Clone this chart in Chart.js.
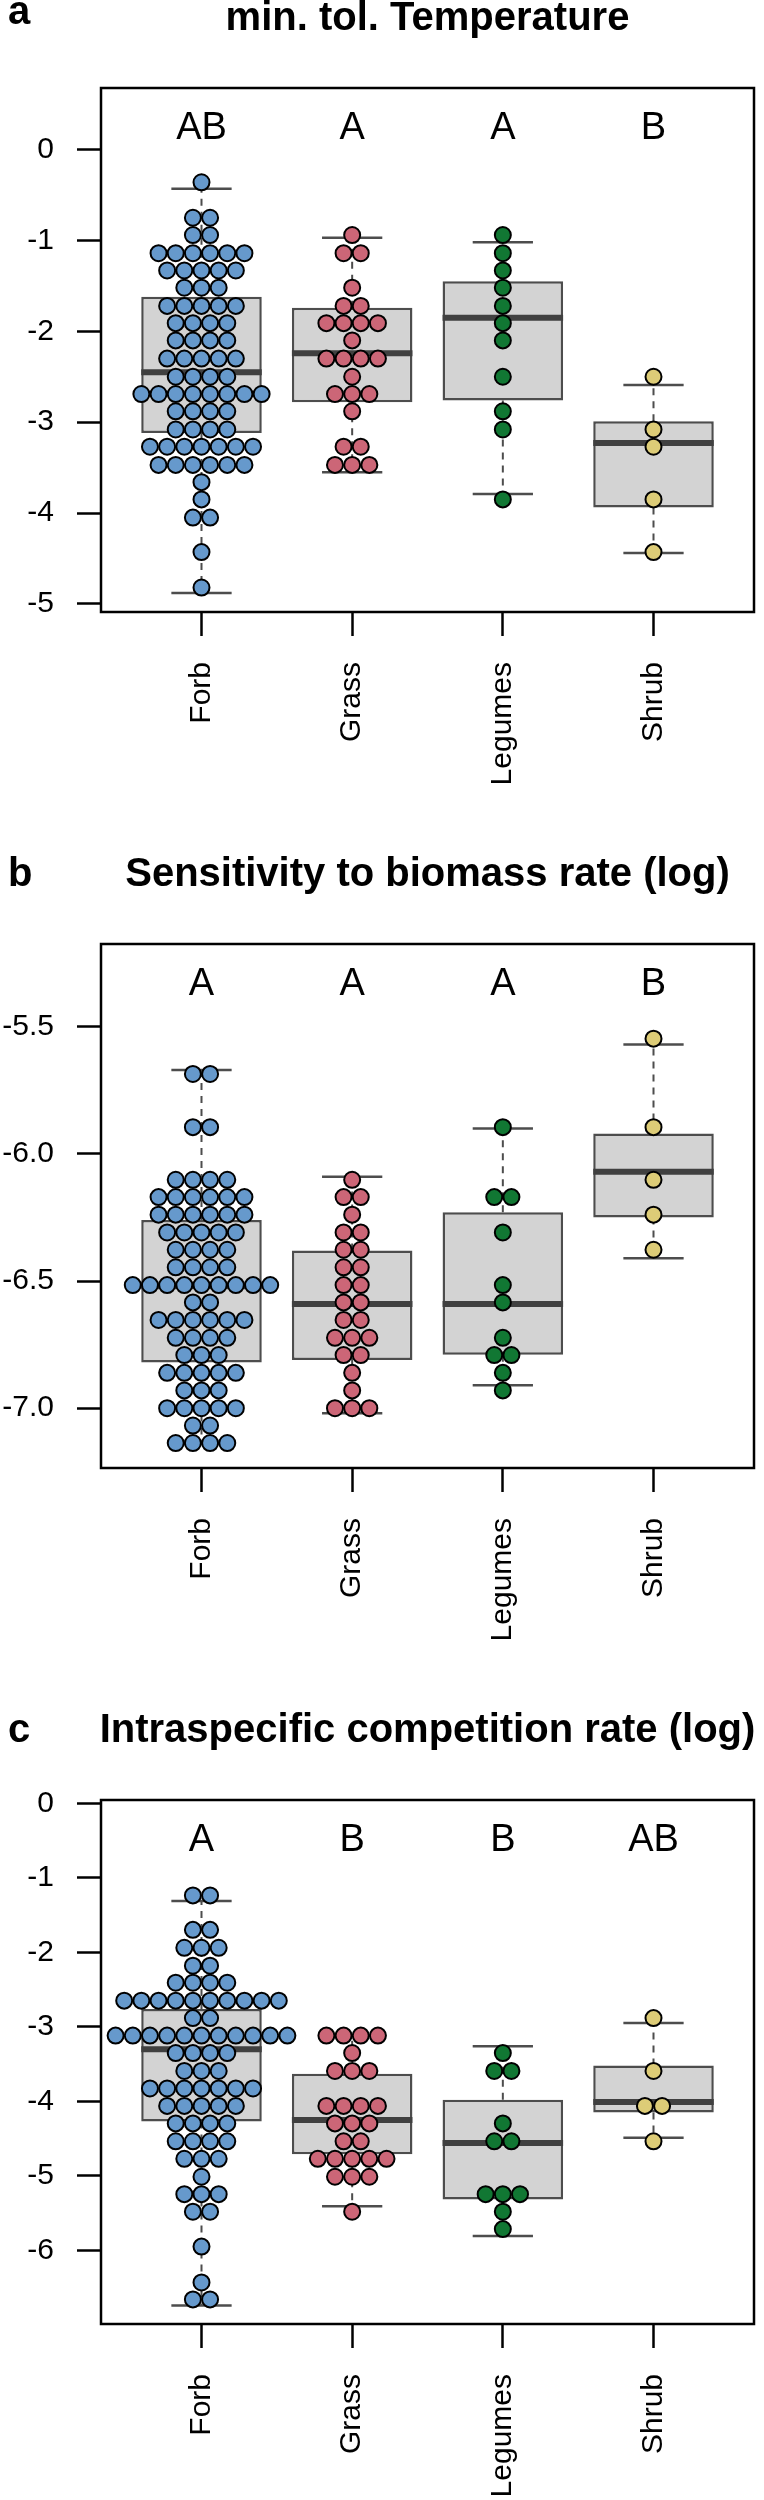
<!DOCTYPE html>
<html lang="en">
<head>
  <meta charset="UTF-8">
  <title>Boxplots with beeswarm by growth form</title>
  <script src="https://cdn.jsdelivr.net/npm/chart.js"></script>
  <style>
    body { margin: 0; background: #fff; }
    canvas { display: block; }
  </style>
</head>
<body>
  <canvas id="chartA" width="764" height="856"></canvas>
  <canvas id="chartB" width="764" height="856"></canvas>
  <canvas id="chartC" width="764" height="856"></canvas>
  <script>
    const groups = ['Forb', 'Grass', 'Legumes', 'Shrub'];
    const colors = ['#6699CC', '#CC6677', '#117733', '#DDCC77'];

    // a) min. tol. Temperature : swarm rows (value, number of species in the row)
    const tempForbY = [-0.36, -0.75, -0.94, -1.14, -1.33, -1.52, -1.72, -1.91, -2.10, -2.30, -2.50, -2.69, -2.88, -3.08, -3.27, -3.47, -3.66, -3.85, -4.05, -4.43, -4.82];
    const tempForbN = [1, 2, 2, 6, 5, 3, 5, 4, 4, 5, 4, 8, 4, 4, 7, 6, 1, 1, 2, 1, 1];
    const tempGrassY = [-0.94, -1.14, -1.52, -1.72, -1.91, -2.10, -2.30, -2.50, -2.69, -2.88, -3.27, -3.47];
    const tempGrassN = [1, 2, 1, 2, 4, 1, 4, 1, 3, 1, 2, 3];
    const tempLegY = [-0.94, -1.14, -1.33, -1.52, -1.72, -1.91, -2.10, -2.50, -2.88, -3.08, -3.85];
    const tempLegN = [1, 1, 1, 1, 1, 1, 1, 1, 1, 1, 1];
    const tempShrubY = [-2.50, -3.08, -3.27, -3.85, -4.43];
    const tempShrubN = [1, 1, 1, 1, 1];
    const tempQ1 = [-3.12, -2.78, -2.76, -3.94];
    const tempMed = [-2.45, -2.24, -1.85, -3.23];
    const tempQ3 = [-1.62, -1.74, -1.45, -2.99];
    const tempLo = [-4.88, -3.55, -3.79, -4.44];
    const tempHi = [-0.43, -0.97, -1.02, -2.59];
    const tempLetters = ['AB', 'A', 'A', 'B'];
    const tempTicks = [0, -1, -2, -3, -4, -5];

    // b) Sensitivity to biomass rate (log)
    const sensForbY = [-5.686, -5.895, -6.102, -6.170, -6.239, -6.309, -6.377, -6.446, -6.516, -6.584, -6.653, -6.723, -6.791, -6.861, -6.930, -7.000, -7.068, -7.137];
    const sensForbN = [2, 2, 4, 6, 6, 5, 4, 4, 9, 2, 6, 4, 3, 5, 3, 5, 2, 4];
    const sensGrassY = [-6.102, -6.170, -6.239, -6.309, -6.377, -6.446, -6.516, -6.584, -6.653, -6.723, -6.791, -6.861, -6.930, -7.000];
    const sensGrassN = [1, 2, 1, 2, 2, 2, 2, 2, 2, 3, 2, 1, 1, 3];
    const sensLegY = [-5.895, -6.170, -6.309, -6.516, -6.584, -6.723, -6.791, -6.861, -6.930];
    const sensLegN = [1, 2, 1, 1, 1, 1, 2, 1, 1];
    const sensShrubY = [-5.547, -5.895, -6.102, -6.239, -6.377];
    const sensShrubN = [1, 1, 1, 1, 1];
    const sensQ1 = [-6.82, -6.81, -6.79, -6.25];
    const sensMed = [-6.52, -6.59, -6.59, -6.07];
    const sensQ3 = [-6.26, -6.38, -6.23, -5.92];
    const sensLo = [-7.14, -7.02, -6.91, -6.41];
    const sensHi = [-5.67, -6.09, -5.90, -5.57];
    const sensLetters = ['A', 'A', 'A', 'B'];
    const sensTicks = [-5.5, -6.0, -6.5, -7.0];

    // c) Intraspecific competition rate (log)
    const compForbY = [-1.236, -1.698, -1.939, -2.180, -2.408, -2.649, -2.883, -3.118, -3.352, -3.593, -3.828, -4.062, -4.297, -4.537, -4.772, -5.013, -5.247, -5.482, -5.951, -6.432, -6.660];
    const compForbN = [2, 2, 3, 2, 4, 10, 2, 11, 4, 3, 7, 5, 4, 4, 3, 1, 3, 2, 1, 1, 2];
    const compGrassY = [-3.118, -3.352, -3.593, -4.062, -4.297, -4.537, -4.772, -5.013, -5.482];
    const compGrassN = [4, 1, 3, 4, 3, 2, 5, 3, 1];
    const compLegY = [-3.352, -3.593, -4.297, -4.537, -5.247, -5.482, -5.716];
    const compLegN = [1, 2, 1, 2, 3, 1, 1];
    const compShrubY = [-2.883, -3.593, -4.062, -4.537];
    const compShrubN = [1, 1, 2, 1];
    const compQ1 = [-4.27, -4.71, -5.32, -4.15];
    const compMed = [-3.30, -4.25, -4.56, -4.01];
    const compQ3 = [-2.76, -3.63, -3.98, -3.52];
    const compLo = [-6.74, -5.41, -5.81, -4.49];
    const compHi = [-1.31, -3.12, -3.26, -2.95];
    const compLetters = ['A', 'B', 'B', 'AB'];
    const compTicks = [0, -1, -2, -3, -4, -5, -6];

    const SWARM_STEP = 0.114;   // horizontal spacing between dots, x units
    const FONT = '"Liberation Sans", Arial, Helvetica, sans-serif';
    Chart.defaults.font.family = FONT;
    Chart.defaults.color = '#000';

    // beeswarm "center" layout: dots of a row spread symmetrically round the group
    function swarm(rowsY, rowsN, pos) {
      const pts = [];
      rowsY.forEach((y, r) => {
        const n = rowsN[r];
        for (let k = 0; k < n; k++) pts.push({x: pos + (k - (n - 1) / 2) * SWARM_STEP, y: y});
      });
      return pts;
    }

    function segments(pairs) {
      // pairs: [[x0,y0,x1,y1], ...] -> line data broken by gaps
      const out = [];
      pairs.forEach(p => {
        out.push({x: p[0], y: p[1]}, {x: p[2], y: p[3]}, {x: p[2], y: null});
      });
      return out;
    }

    // titles, panel letter, group letters and the frame
    const decor = {
      id: 'decor',
      afterDatasetsDraw(chart, args, opts) {
        const {ctx, chartArea: a, scales: {x}} = chart;
        ctx.save();
        ctx.strokeStyle = '#000';
        ctx.lineWidth = 2.5;
        ctx.strokeRect(a.left, a.top, a.right - a.left, a.bottom - a.top);
        ctx.fillStyle = '#000';
        ctx.font = 'bold 40px ' + FONT;
        ctx.textBaseline = 'alphabetic';
        ctx.textAlign = 'center';
        ctx.fillText(opts.title, (a.left + a.right) / 2, a.top - 58);
        ctx.textAlign = 'left';
        ctx.fillText(opts.letter, 8, a.top - 58 - (opts.letterLift || 0));
        ctx.font = '38px ' + FONT;
        ctx.textAlign = 'center';
        ctx.textBaseline = 'middle';
        opts.groupLetters.forEach((t, i) => ctx.fillText(t, x.getPixelForValue(i + 1), a.top + 41));
        ctx.restore();
      }
    };

    function makePanel(id, p) {
      const pos = groups.map((g, i) => i + 1);
      const datasets = [];
      // swarm points on top
      p.rows.forEach((r, i) => {
        datasets.push({
          type: 'line', showLine: false, order: 0,
          data: swarm(r[0], r[1], pos[i]),
          pointRadius: 8, pointBorderWidth: 2,
          pointBackgroundColor: colors[i], pointBorderColor: '#000'
        });
      });
      // staples
      datasets.push({
        type: 'line', order: 1, pointRadius: 0, borderColor: '#4d4d4d', borderWidth: 2.5,
        data: segments(pos.flatMap((x, i) => [[x - 0.2, p.hi[i], x + 0.2, p.hi[i]], [x - 0.2, p.lo[i], x + 0.2, p.lo[i]]]))
      });
      // medians
      datasets.push({
        type: 'line', order: 2, pointRadius: 0, borderColor: '#404040', borderWidth: 6, borderCapStyle: 'butt',
        data: segments(pos.map((x, i) => [x - 0.4, p.med[i], x + 0.4, p.med[i]]))
      });
      // dashed whiskers
      datasets.push({
        type: 'line', order: 3, pointRadius: 0, borderColor: '#4d4d4d', borderWidth: 2, borderDash: [7, 6],
        data: segments(pos.flatMap((x, i) => [[x, p.q3[i], x, p.hi[i]], [x, p.q1[i], x, p.lo[i]]]))
      });
      // boxes
      datasets.push({
        type: 'bar', order: 4,
        data: pos.map((x, i) => ({x: x, y: [p.q1[i], p.q3[i]]})),
        backgroundColor: '#d3d3d3', borderColor: '#4d4d4d', borderWidth: 2.5, borderSkipped: false,
        barPercentage: 0.8, categoryPercentage: 1
      });

      const tickGrid = { drawOnChartArea: false, offset: false, tickLength: 24, tickWidth: 2.5, tickColor: '#000' };
      return new Chart(document.getElementById(id), {
        type: 'bar',
        data: { datasets: datasets },
        options: {
          responsive: false,
          animation: false,
          events: [],
          layout: { padding: { top: 88, right: 2, left: 0, bottom: 0 } },
          plugins: {
            legend: { display: false },
            tooltip: { enabled: false },
            decor: { title: p.title, letter: p.letter, letterLift: p.letterLift, groupLetters: p.letters }
          },
          scales: {
            x: {
              type: 'linear', min: 0.333, max: 4.667, offset: false,
              afterBuildTicks: s => { s.ticks = pos.map(v => ({value: v})); },
              afterFit: s => { s.height = 244; },
              ticks: {
                autoSkip: false, minRotation: 90, maxRotation: 90, padding: 26,
                font: { size: 30 }, color: '#000',
                callback: v => groups[Math.round(v) - 1]
              },
              grid: tickGrid,
              border: { display: false }
            },
            y: {
              min: p.min, max: p.max,
              afterBuildTicks: s => { s.ticks = p.ticks.map(v => ({value: v})); },
              afterFit: s => { s.width = 101; },
              ticks: {
                padding: 23, font: { size: 30 }, color: '#000',
                callback: v => p.decimals ? v.toFixed(p.decimals) : String(v)
              },
              grid: tickGrid,
              border: { display: false }
            }
          }
        },
        plugins: [decor]
      });
    }

    makePanel('chartA', {
      title: 'min. tol. Temperature', letter: 'a', letterLift: 6, letters: tempLetters,
      rows: [[tempForbY, tempForbN], [tempGrassY, tempGrassN], [tempLegY, tempLegN], [tempShrubY, tempShrubN]],
      q1: tempQ1, med: tempMed, q3: tempQ3, lo: tempLo, hi: tempHi,
      min: -5.089, max: 0.678, ticks: tempTicks, decimals: 0
    });
    makePanel('chartB', {
      title: 'Sensitivity to biomass rate (log)', letter: 'b', letters: sensLetters,
      rows: [[sensForbY, sensForbN], [sensGrassY, sensGrassN], [sensLegY, sensLegN], [sensShrubY, sensShrubN]],
      q1: sensQ1, med: sensMed, q3: sensQ3, lo: sensLo, hi: sensHi,
      min: -7.235, max: -5.175, ticks: sensTicks, decimals: 1
    });
    makePanel('chartC', {
      title: 'Intraspecific competition rate (log)', letter: 'c', letters: compLetters,
      rows: [[compForbY, compForbN], [compGrassY, compGrassN], [compLegY, compLegN], [compShrubY, compShrubN]],
      q1: compQ1, med: compMed, q3: compQ3, lo: compLo, hi: compHi,
      min: -6.99, max: 0.045, ticks: compTicks, decimals: 0
    });
  </script>
</body>
</html>
